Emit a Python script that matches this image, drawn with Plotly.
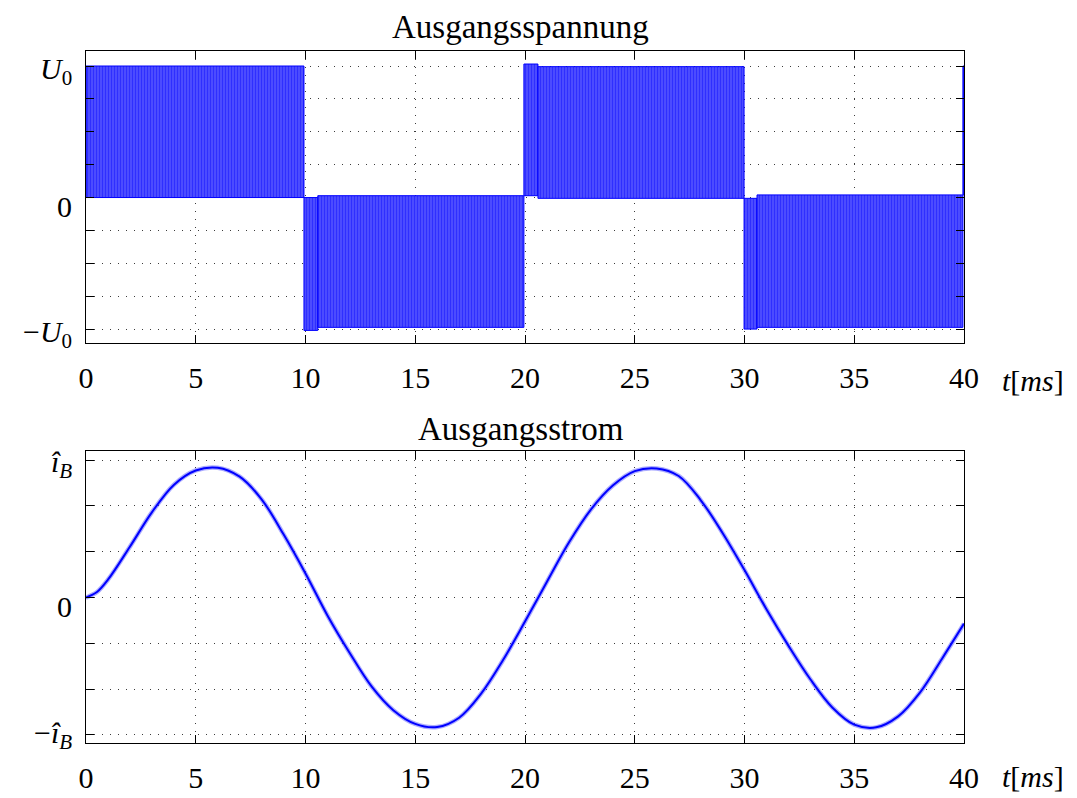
import plotly.graph_objects as go
from plotly.subplots import make_subplots

# ---------------- data ----------------
# Output voltage (PWM blocks): segment boundaries [ms], upper / lower switching levels (in U0)
volt_bounds = [0.0, 9.93, 10.56, 19.95, 20.59, 29.98, 30.57, 39.95, 40.0]
volt_upper = [1.0, 0.0, 0.014, 1.015, 0.995, -0.006, 0.02, 1.0]
volt_lower = [0.0, -1.01, -0.987, 0.014, -0.006, -1.0, -0.987, 0.02]

# Output current (in i_B hat)
cur_t = [0, 0.5, 1, 2, 3, 4, 5, 6, 7, 8, 9, 10, 11, 12, 13, 14, 15, 16, 17, 18, 19, 20,
         21, 22, 23, 24, 25, 26, 27, 28, 29, 30, 31, 32, 33, 34, 35, 36, 37, 38, 39, 40]
cur_i = [0.0, 0.04, 0.13, 0.37, 0.62, 0.82, 0.925, 0.945, 0.88, 0.715, 0.46, 0.175,
         -0.13, -0.40, -0.645, -0.82, -0.92, -0.943, -0.875, -0.70, -0.455, -0.175,
         0.115, 0.40, 0.64, 0.815, 0.92, 0.94, 0.885, 0.71, 0.47, 0.20,
         -0.085, -0.35, -0.595, -0.80, -0.925, -0.945, -0.865, -0.69, -0.445, -0.19]

x_ticks = [0, 5, 10, 15, 20, 25, 30, 35, 40]
u_gridvals = [-1, -0.75, -0.5, -0.25, 0, 0.25, 0.5, 0.75, 1]
u_labelvals = [1, 0, -1]
u_labels = ["<i>U</i><sub>0</sub>", "0", "\u2212<i>U</i><sub>0</sub>"]
i_gridvals = [-1, -2/3, -1/3, 0, 1/3, 2/3, 1]
i_labelvals = [1, 0, -1]
i_labels = ["<i>\u00ee</i><sub><i>B</i></sub>", "0", "\u2212<i>\u00ee</i><sub><i>B</i></sub>"]

# ---------------- figure ----------------
FONT = "Liberation Serif"
BLUE = "rgb(0,0,255)"

fig = make_subplots(rows=2, cols=1, vertical_spacing=0.156)

for k in range(len(volt_upper)):
    t0, t1 = volt_bounds[k], volt_bounds[k + 1]
    up, lo = volt_upper[k], volt_lower[k]
    fig.add_trace(go.Scatter(
        x=[t0, t1, t1, t0, t0], y=[up, up, lo, lo, up],
        mode="lines", fill="toself",
        line=dict(color=BLUE, width=1),
        fillpattern=dict(shape="|", fgcolor=BLUE, bgcolor="rgb(95,95,255)",
                         size=3, solidity=0.6),
        hoverinfo="skip", showlegend=False), row=1, col=1)

# ripple halo + centre line of the current
fig.add_trace(go.Scatter(x=cur_t, y=cur_i, mode="lines",
                         line=dict(color="rgba(70,70,255,0.45)", width=4.5, shape="spline", smoothing=1.0),
                         hoverinfo="skip", showlegend=False), row=2, col=1)
fig.add_trace(go.Scatter(x=cur_t, y=cur_i, mode="lines",
                         line=dict(color=BLUE, width=2, shape="spline", smoothing=1.0),
                         showlegend=False), row=2, col=1)

axis_common = dict(showline=True, linecolor="black", linewidth=1, mirror="ticks",
                   ticks="inside", ticklen=8, tickcolor="black",
                   showgrid=True, gridcolor="rgb(60,60,60)", gridwidth=1,
                   griddash="1px,7px", zeroline=False, automargin=False,
                   tickfont=dict(family=FONT, size=30, color="black"))

fig.update_xaxes(range=[0, 40], tickvals=x_ticks, ticktext=[str(v) for v in x_ticks],
                 ticklabelstandoff=8, **axis_common)
fig.update_yaxes(range=[-1.106, 1.114], tickvals=u_gridvals, showticklabels=False,
                 row=1, col=1, **axis_common)
fig.update_yaxes(range=[-1.059, 1.067], tickvals=i_gridvals, showticklabels=False,
                 row=2, col=1, **axis_common)

fig.update_xaxes(domain=[0, 1])
fig.update_yaxes(domain=[0.578, 1.0], row=1, col=1)
fig.update_yaxes(domain=[0.0, 0.422], row=2, col=1)

ann_font = dict(family=FONT, size=30, color="black")
# y tick labels (placed at their tick values, nudged to the reference's baseline)
u_shift = [-5, -9, -5]
for v, txt, s in zip(u_labelvals, u_labels, u_shift):
    fig.add_annotation(text=txt, xref="paper", yref="y", x=0, y=v, xshift=-12, yshift=s,
                       xanchor="right", yanchor="middle", showarrow=False, font=ann_font)
i_shift = [-4, -9, 0]
for v, txt, s in zip(i_labelvals, i_labels, i_shift):
    fig.add_annotation(text=txt, xref="paper", yref="y2", x=0, y=v, xshift=-12, yshift=s,
                       xanchor="right", yanchor="middle", showarrow=False, font=ann_font)

title_font = dict(family=FONT, size=33, color="black")
fig.add_annotation(text="Ausgangsspannung", xref="paper", yref="paper", x=0.495, y=1.0,
                   yshift=4, xanchor="center", yanchor="bottom", showarrow=False, font=title_font)
fig.add_annotation(text="Ausgangsstrom", xref="paper", yref="paper", x=0.495, y=0.422,
                   yshift=2, xanchor="center", yanchor="bottom", showarrow=False, font=title_font)
fig.add_annotation(text="<i>t</i>[<i>ms</i>]", xref="paper", yref="paper", x=1.0, y=0.578,
                   xshift=36, yshift=-37, xanchor="left", yanchor="middle",
                   showarrow=False, font=ann_font)
fig.add_annotation(text="<i>t</i>[<i>ms</i>]", xref="paper", yref="paper", x=1.0, y=0.0,
                   xshift=36, yshift=-33, xanchor="left", yanchor="middle",
                   showarrow=False, font=ann_font)

fig.update_layout(width=1077, height=798,
                  margin=dict(l=86, r=113, t=51, b=55, autoexpand=False),
                  paper_bgcolor="white", plot_bgcolor="white",
                  font=dict(family=FONT, color="black"))

fig.write_html("out.html")
